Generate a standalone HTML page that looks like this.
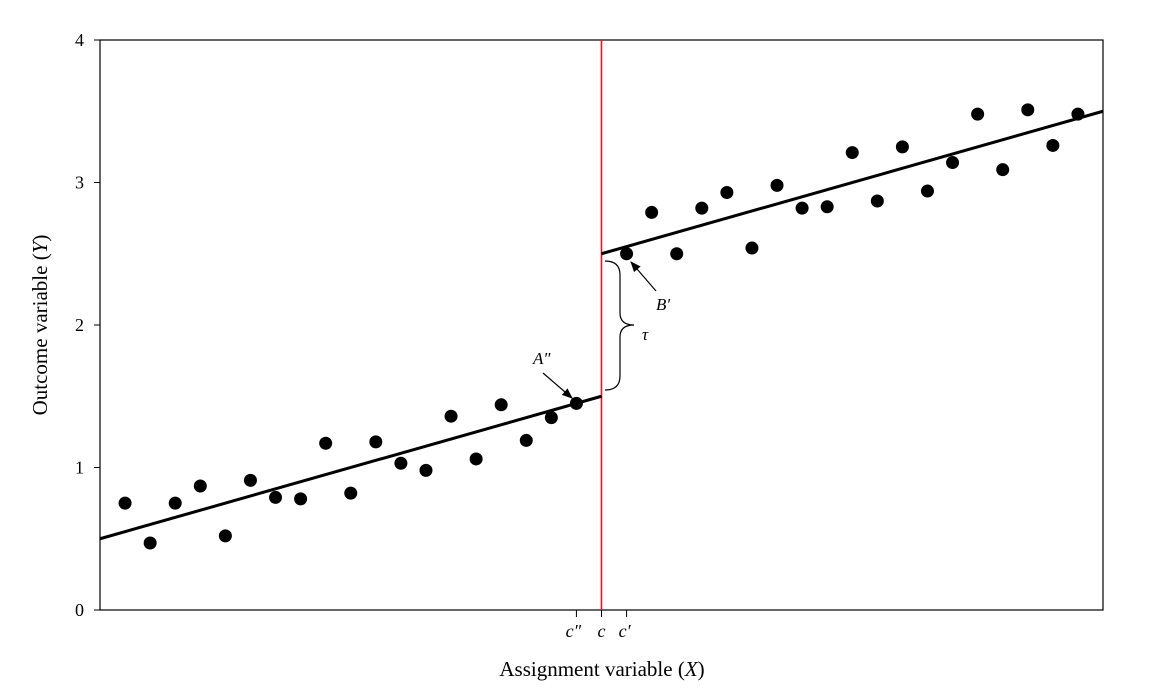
<!DOCTYPE html>
<html><head><meta charset="utf-8"><style>
html,body{margin:0;padding:0;background:#fff;}
svg{display:block;font-family:"Liberation Serif",serif;}
</style></head><body>
<svg id="chart" width="1154" height="694" viewBox="0 0 1154 694" xmlns="http://www.w3.org/2000/svg">
<defs><marker id="ah" viewBox="0 0 10 10" refX="9" refY="5" markerWidth="9" markerHeight="9" orient="auto-start-reverse"><path d="M0,1 L10,5 L0,9 Z" fill="#000"/></marker></defs>
<rect x="100" y="40" width="1003" height="570" fill="none" stroke="#000" stroke-width="1.2"/>
<g id="yticks"></g>
<g id="marks"></g>
<text transform="translate(47,325) rotate(-90)" text-anchor="middle" font-size="21">Outcome variable (<tspan font-style="italic">Y</tspan>)</text>
<text x="602" y="676" text-anchor="middle" font-size="21">Assignment variable (<tspan font-style="italic">X</tspan>)</text>
<path d="M605,261 Q620,261 620,275 L620,313 Q620,325 634,325 Q620,325 620,337 L620,376 Q620,390 605,390" fill="none" stroke="#000" stroke-width="1.2"/>
<text x="642" y="340" font-size="17" font-style="italic">τ</text>
<text x="533" y="364" font-size="17" font-style="italic">A″</text>
<line x1="543" y1="373" x2="572" y2="398" stroke="#000" stroke-width="1.2" marker-end="url(#ah)"/>
<text x="656" y="310" font-size="17" font-style="italic">B′</text>
<line x1="656" y1="291" x2="631" y2="262" stroke="#000" stroke-width="1.2" marker-end="url(#ah)"/>
</svg>
<script>
const leftX=[1,2,3,4,5,6,7,8,9,10,11,12,13,14,15,16,17,18,19];
const leftY=[0.75,0.47,0.75,0.87,0.52,0.91,0.79,0.78,1.17,0.82,1.18,1.03,0.98,1.36,1.06,1.44,1.19,1.35,1.45];
const rightX=[21,22,23,24,25,26,27,28,29,30,31,32,33,34,35,36,37,38,39];
const rightY=[2.50,2.79,2.50,2.82,2.93,2.54,2.98,2.82,2.83,3.21,2.87,3.25,2.94,3.14,3.48,3.09,3.51,3.26,3.48];
const cutoff=20;
const leftFit=[[0,0.5],[20,1.5]];
const rightFit=[[20,2.5],[40,3.5]];
const yTicks=[0,1,2,3,4];
const xTickVals=[19,20,21];
const xTickLabels=["c″","c","c′"];
const sx=v=>100+v*(1003/40), sy=v=>610-v*142.5;
const NS="http://www.w3.org/2000/svg";
const marks=document.getElementById('marks'), yt=document.getElementById('yticks');
function mk(p,tag,a){const e=document.createElementNS(NS,tag);for(const k in a)e.setAttribute(k,a[k]);p.appendChild(e);return e;}
yTicks.forEach(t=>{
 const l=mk(yt,'line',{x1:94,x2:100,y1:sy(t),y2:sy(t),stroke:'#000'});
 
 
 const tx=mk(yt,'text',{x:84,y:sy(t)+6,'text-anchor':'end','font-size':18});tx.textContent=t;
 
 
});
xTickVals.forEach((t,i)=>{
 const l=mk(yt,'line',{x1:sx(t),x2:sx(t),y1:610,y2:617,stroke:'#000'});
 
 
 const tx=mk(yt,'text',{x:sx(t)+(i==0?-3:i==2?-2:0),y:637,'text-anchor':'middle','font-size':18,'font-style':'italic'});tx.textContent=xTickLabels[i];
 
 
});
const cl=mk(marks,'line',{x1:sx(cutoff),x2:sx(cutoff),y1:40,y2:610,stroke:'#f0102a','stroke-width':1.6});


[leftFit,rightFit].forEach((f,i)=>{
 const l=mk(marks,'line',{x1:sx(f[0][0]),y1:sy(f[0][1]),x2:sx(f[1][0]),y2:sy(f[1][1]),stroke:'#000','stroke-width':3});
 
 
});
[[leftX,leftY],[rightX,rightY]].forEach(([xs,ys])=>xs.forEach((x,i)=>{
 const c=mk(marks,'circle',{cx:sx(x),cy:sy(ys[i]),r:6.5,fill:'#000'});
 
 
}));
</script>
</body></html>
